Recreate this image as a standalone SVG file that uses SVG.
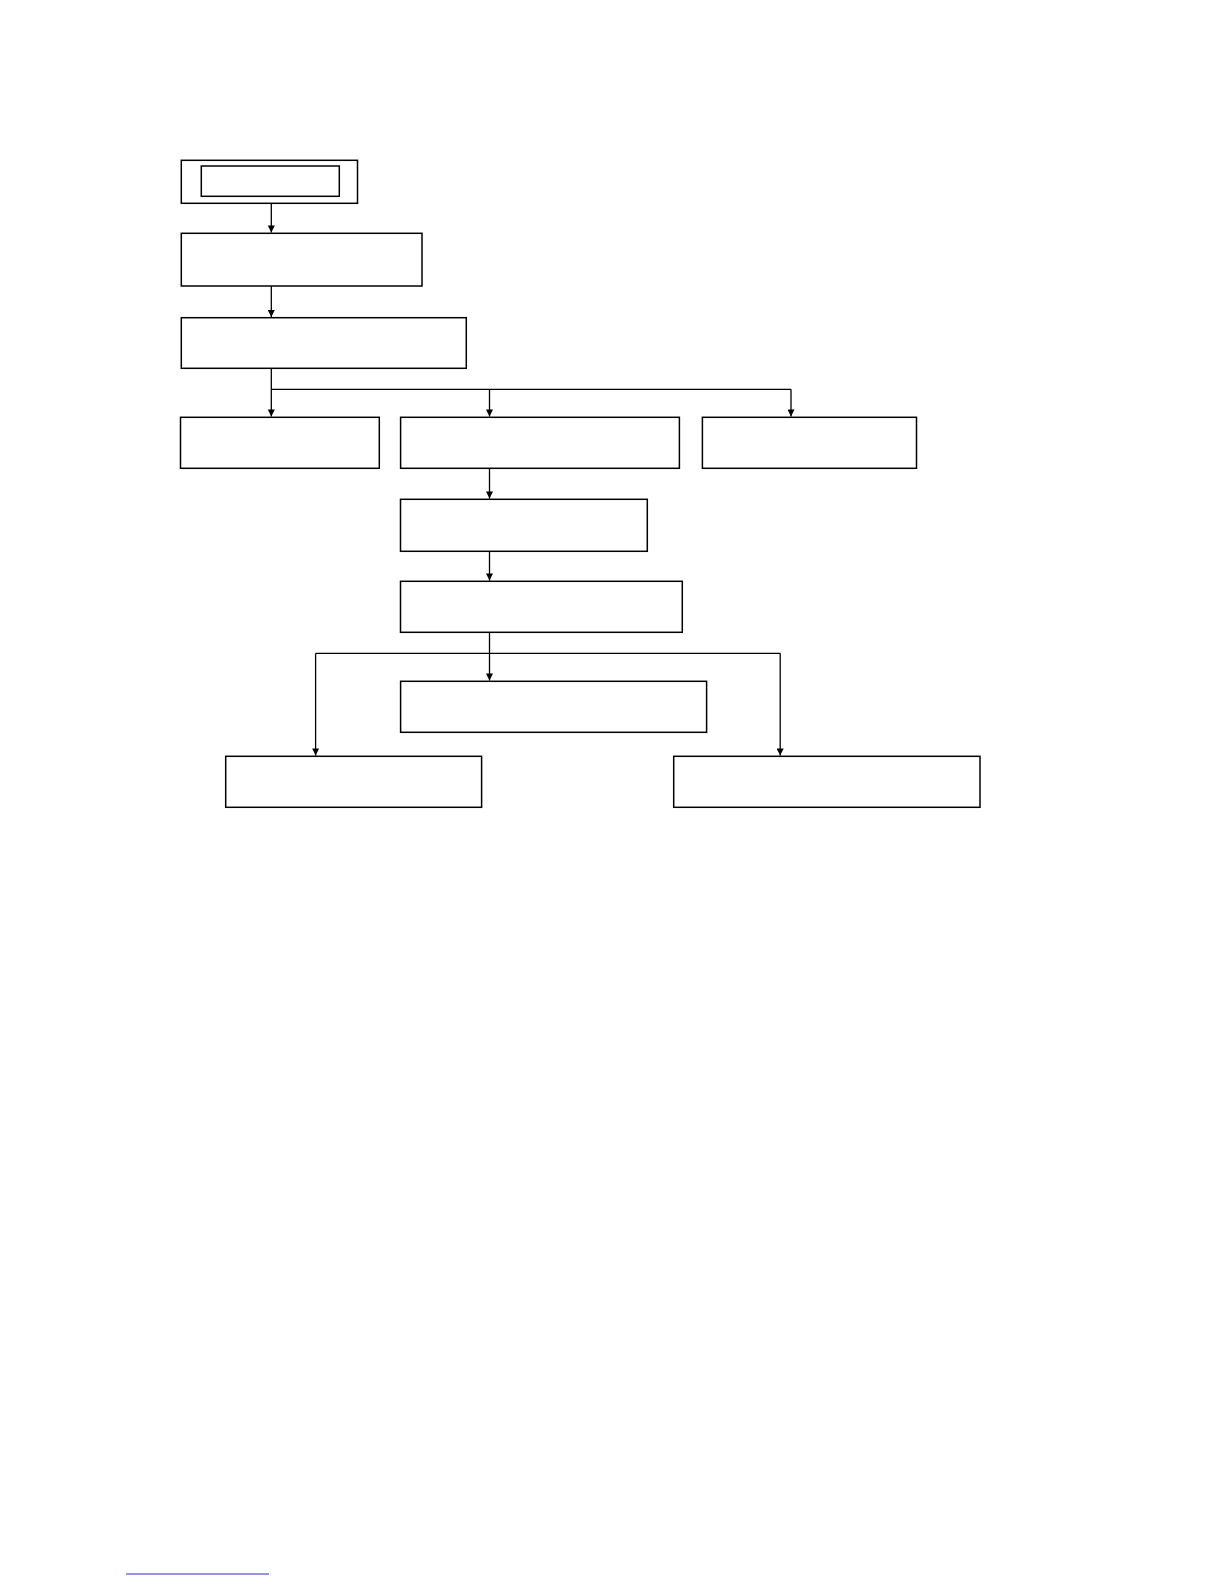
<svg xmlns="http://www.w3.org/2000/svg" width="1224" height="1584" viewBox="0 0 1224 1584">
  <style>
    .box { fill: #ffffff; stroke: #000000; stroke-width: 1.5; }
    .conn { fill: none; stroke: #000000; stroke-width: 1.3; }
  </style>
  <defs>
    <marker id="arrow" viewBox="0 0 10 10" refX="10" refY="5" markerWidth="11" markerHeight="7" markerUnits="userSpaceOnUse" orient="auto">
      <path d="M0,0 L10,5 L0,10 Z" fill="#000000"/>
    </marker>
  </defs>
  <rect x="0" y="0" width="1224" height="1584" fill="#ffffff"/>

  <g id="connectors">
    <line class="conn" x1="271.3" y1="203.3" x2="271.3" y2="232.5" marker-end="url(#arrow)"/>
    <line class="conn" x1="271.3" y1="286" x2="271.3" y2="317" marker-end="url(#arrow)"/>
    <polyline class="conn" points="271.3,368.3 271.3,389.3"/>
    <line class="conn" x1="271.3" y1="389.3" x2="791" y2="389.3"/>
    <line class="conn" x1="271.3" y1="389.3" x2="271.3" y2="416.6" marker-end="url(#arrow)"/>
    <line class="conn" x1="489.5" y1="389.3" x2="489.5" y2="416.6" marker-end="url(#arrow)"/>
    <line class="conn" x1="791" y1="389.3" x2="791" y2="416.6" marker-end="url(#arrow)"/>
    <line class="conn" x1="489.5" y1="468.3" x2="489.5" y2="498.6" marker-end="url(#arrow)"/>
    <line class="conn" x1="489.5" y1="551.3" x2="489.5" y2="580.6" marker-end="url(#arrow)"/>
    <line class="conn" x1="489.5" y1="632.3" x2="489.5" y2="680.6" marker-end="url(#arrow)"/>
    <line class="conn" x1="315.6" y1="653.3" x2="780.2" y2="653.3"/>
    <line class="conn" x1="315.6" y1="653.3" x2="315.6" y2="755.6" marker-end="url(#arrow)"/>
    <line class="conn" x1="780.2" y1="653.3" x2="780.2" y2="755.6" marker-end="url(#arrow)"/>
  </g>

  <g id="node-start">
    <rect class="box" x="181.3" y="160.3" width="176.2" height="43"/>
    <rect class="box" x="201.3" y="166" width="138" height="30.3"/>
  </g>
  <g id="node-2"><rect class="box" x="181.3" y="233.3" width="240.7" height="52.7"/></g>
  <g id="node-3"><rect class="box" x="181.3" y="317.7" width="285" height="50.6"/></g>
  <g id="node-4a"><rect class="box" x="180.5" y="417.3" width="198.8" height="51"/></g>
  <g id="node-4b"><rect class="box" x="400.6" y="417.3" width="278.8" height="51"/></g>
  <g id="node-4c"><rect class="box" x="702.4" y="417.3" width="214.1" height="51"/></g>
  <g id="node-5"><rect class="box" x="400.5" y="499.3" width="246.8" height="52"/></g>
  <g id="node-6"><rect class="box" x="400.5" y="581.3" width="281.8" height="51"/></g>
  <g id="node-7"><rect class="box" x="400.6" y="681.3" width="306" height="51"/></g>
  <g id="node-8"><rect class="box" x="225.7" y="756.3" width="255.9" height="51"/></g>
  <g id="node-9"><rect class="box" x="673.7" y="756.3" width="306.3" height="51"/></g>

  <line x1="126" y1="1574" x2="269" y2="1574" stroke="#2b2bd6" stroke-width="1"/>
</svg>
